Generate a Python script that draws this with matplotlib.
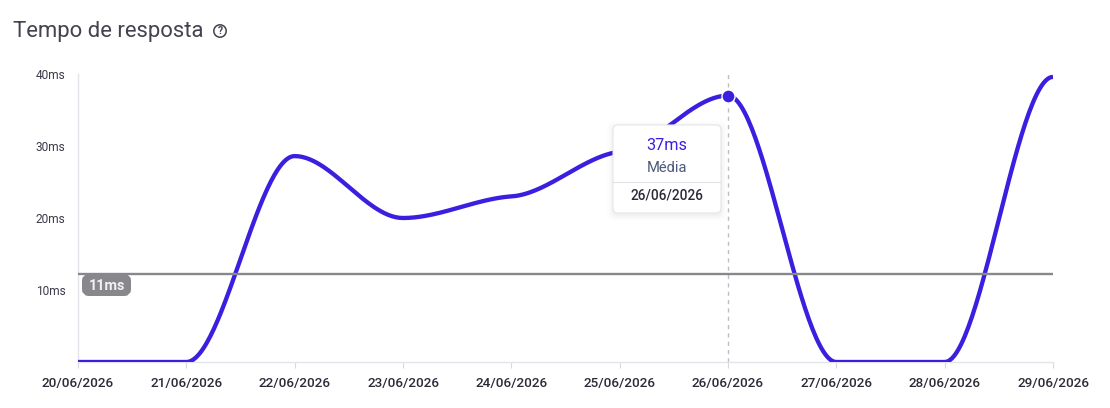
import numpy as np
import matplotlib
matplotlib.use("Agg")
import matplotlib.pyplot as plt
from matplotlib.patches import FancyBboxPatch, Circle
from matplotlib.transforms import Affine2D

plt.rcParams['font.family'] = ['Roboto', 'DejaVu Sans']

dates = ["20/06/2026", "21/06/2026", "22/06/2026", "23/06/2026", "24/06/2026",
         "25/06/2026", "26/06/2026", "27/06/2026", "28/06/2026", "29/06/2026"]
response_ms = [0, 0, 28.6, 20, 23, 29.2, 37, 0, 0, 39.6]
y_ticks = [10, 20, 30, 40]
y_labels = ["10ms", "20ms", "30ms", "40ms"]
average_position = 12.25
average_label = "11ms"
hover_index = 6
hover_value = "37ms"
hover_name = "Média"

W, H = 1110, 408
fig = plt.figure(figsize=(W / 100, H / 100), dpi=100, facecolor="white")
L, R, T, B = 78, 1053, 74, 362
ax = fig.add_axes([L / W, 1 - B / H, (R - L) / W, (B - T) / H])
ax.set_xlim(0, len(dates) - 1)
ax.set_ylim(0, 40)
ax.patch.set_alpha(0)
px = Affine2D().scale(1, -1).translate(0, H)  # pixel coords, origin top-left


def smooth_curve(y, tension=0.25, n=60):
    """Cubic spline with damped monotone tangents (the drawn line shape)."""
    y = np.asarray(y, float)
    x = np.arange(len(y), dtype=float)
    s = np.diff(y)
    m = np.zeros(len(y))
    for i in range(1, len(y) - 1):
        if s[i - 1] * s[i] > 0:
            m[i] = tension * 2 * s[i - 1] * s[i] / (s[i - 1] + s[i])
    xs, ys = [], []
    for i in range(len(y) - 1):
        t = np.linspace(0, 1, n)
        h00 = 2 * t**3 - 3 * t**2 + 1
        h10 = t**3 - 2 * t**2 + t
        h01 = -2 * t**3 + 3 * t**2
        h11 = t**3 - t**2
        xs.append(x[i] + t)
        ys.append(h00 * y[i] + h10 * m[i] + h01 * y[i + 1] + h11 * m[i + 1])
    return np.concatenate(xs), np.concatenate(ys)


AXIS = "#e4e4ea"
for s in ("top", "right"):
    ax.spines[s].set_visible(False)
for s in ("left", "bottom"):
    ax.spines[s].set_color(AXIS)
    ax.spines[s].set_linewidth(1.0)
ax.set_xticks(range(len(dates)))
ax.set_xticklabels(dates, fontsize=9.7, fontweight=500, color="#2b2b3a")
ax.tick_params(axis="x", length=4.5, width=0.8, color="#d8d8de", pad=6)
ax.set_yticks(y_ticks)
ax.set_yticklabels(y_labels, fontsize=8.6, color="#3a3a4a")
ax.tick_params(axis="y", length=0, pad=9)

# crosshair
ax.axvline(hover_index, color="#bdbdc4", lw=1.0, ls=(0, (3, 3)), zorder=1)

# series
cx, cy = smooth_curve(response_ms)
ax.plot(cx, cy, color="#3a1fe0", lw=3.1, zorder=3, solid_capstyle="butt")

# average line
ax.axhline(average_position, color="#88888c", lw=1.7, zorder=4)

# hovered point
ax.plot([hover_index], [response_ms[hover_index]], "o", ms=9.4, mfc="#3a1fe0",
        mec="white", mew=1.0, zorder=6, clip_on=False)

# average badge
fig.add_artist(FancyBboxPatch((86, 278), 41, 14, boxstyle="round,pad=0,rounding_size=3",
                              transform=px, fc="#88888c", ec="#88888c", lw=8 * 0.72, zorder=7))
fig.text(106.5, 285.5, average_label, transform=px, ha="center", va="center", fontsize=10.4,
         fontweight="bold", color="#f2f2f4", zorder=8)

# tooltip shadow and box
for grow, alpha in [(6, 0.008), (4, 0.012), (2.5, 0.016), (1, 0.02)]:
    fig.add_artist(FancyBboxPatch((613 - grow, 125 - grow + 2), 108 + 2 * grow, 88 + 2 * grow,
                                  boxstyle="round,pad=0,rounding_size=6", transform=px,
                                  fc="black", ec="none", alpha=alpha, zorder=9))
fig.add_artist(FancyBboxPatch((613, 125), 108, 88, boxstyle="round,pad=0,rounding_size=5",
                              transform=px, fc="white", ec="#e6e6ea", lw=0.8, zorder=10))
fig.add_artist(plt.Line2D([613, 721], [181.5, 181.5], transform=px, color="#e2e2e6", lw=0.8, zorder=11))
fig.text(667, 145, hover_value, transform=px, ha="center", va="center", fontsize=11.7,
         color="#3a1fe0", zorder=12)
fig.text(667, 167.5, hover_name, transform=px, ha="center", va="center", fontsize=10.6,
         color="#4a5a78", zorder=12)
fig.text(667, 195, dates[hover_index], transform=px, ha="center", va="center", fontsize=9.8,
         fontweight=500, color="#2b2b3a", zorder=12)

# title
fig.text(13, 31, "Tempo de resposta", transform=px, ha="left", va="center", fontsize=15.9,
         color="#43434f")
fig.add_artist(Circle((220, 31), 6.2, transform=px, fc="none", ec="#43434f", lw=1.1))
fig.text(220, 31, "?", transform=px, ha="center", va="center", fontsize=7.4, fontweight="bold",
         color="#43434f")

fig.savefig("out.png", dpi=100, facecolor="white")
